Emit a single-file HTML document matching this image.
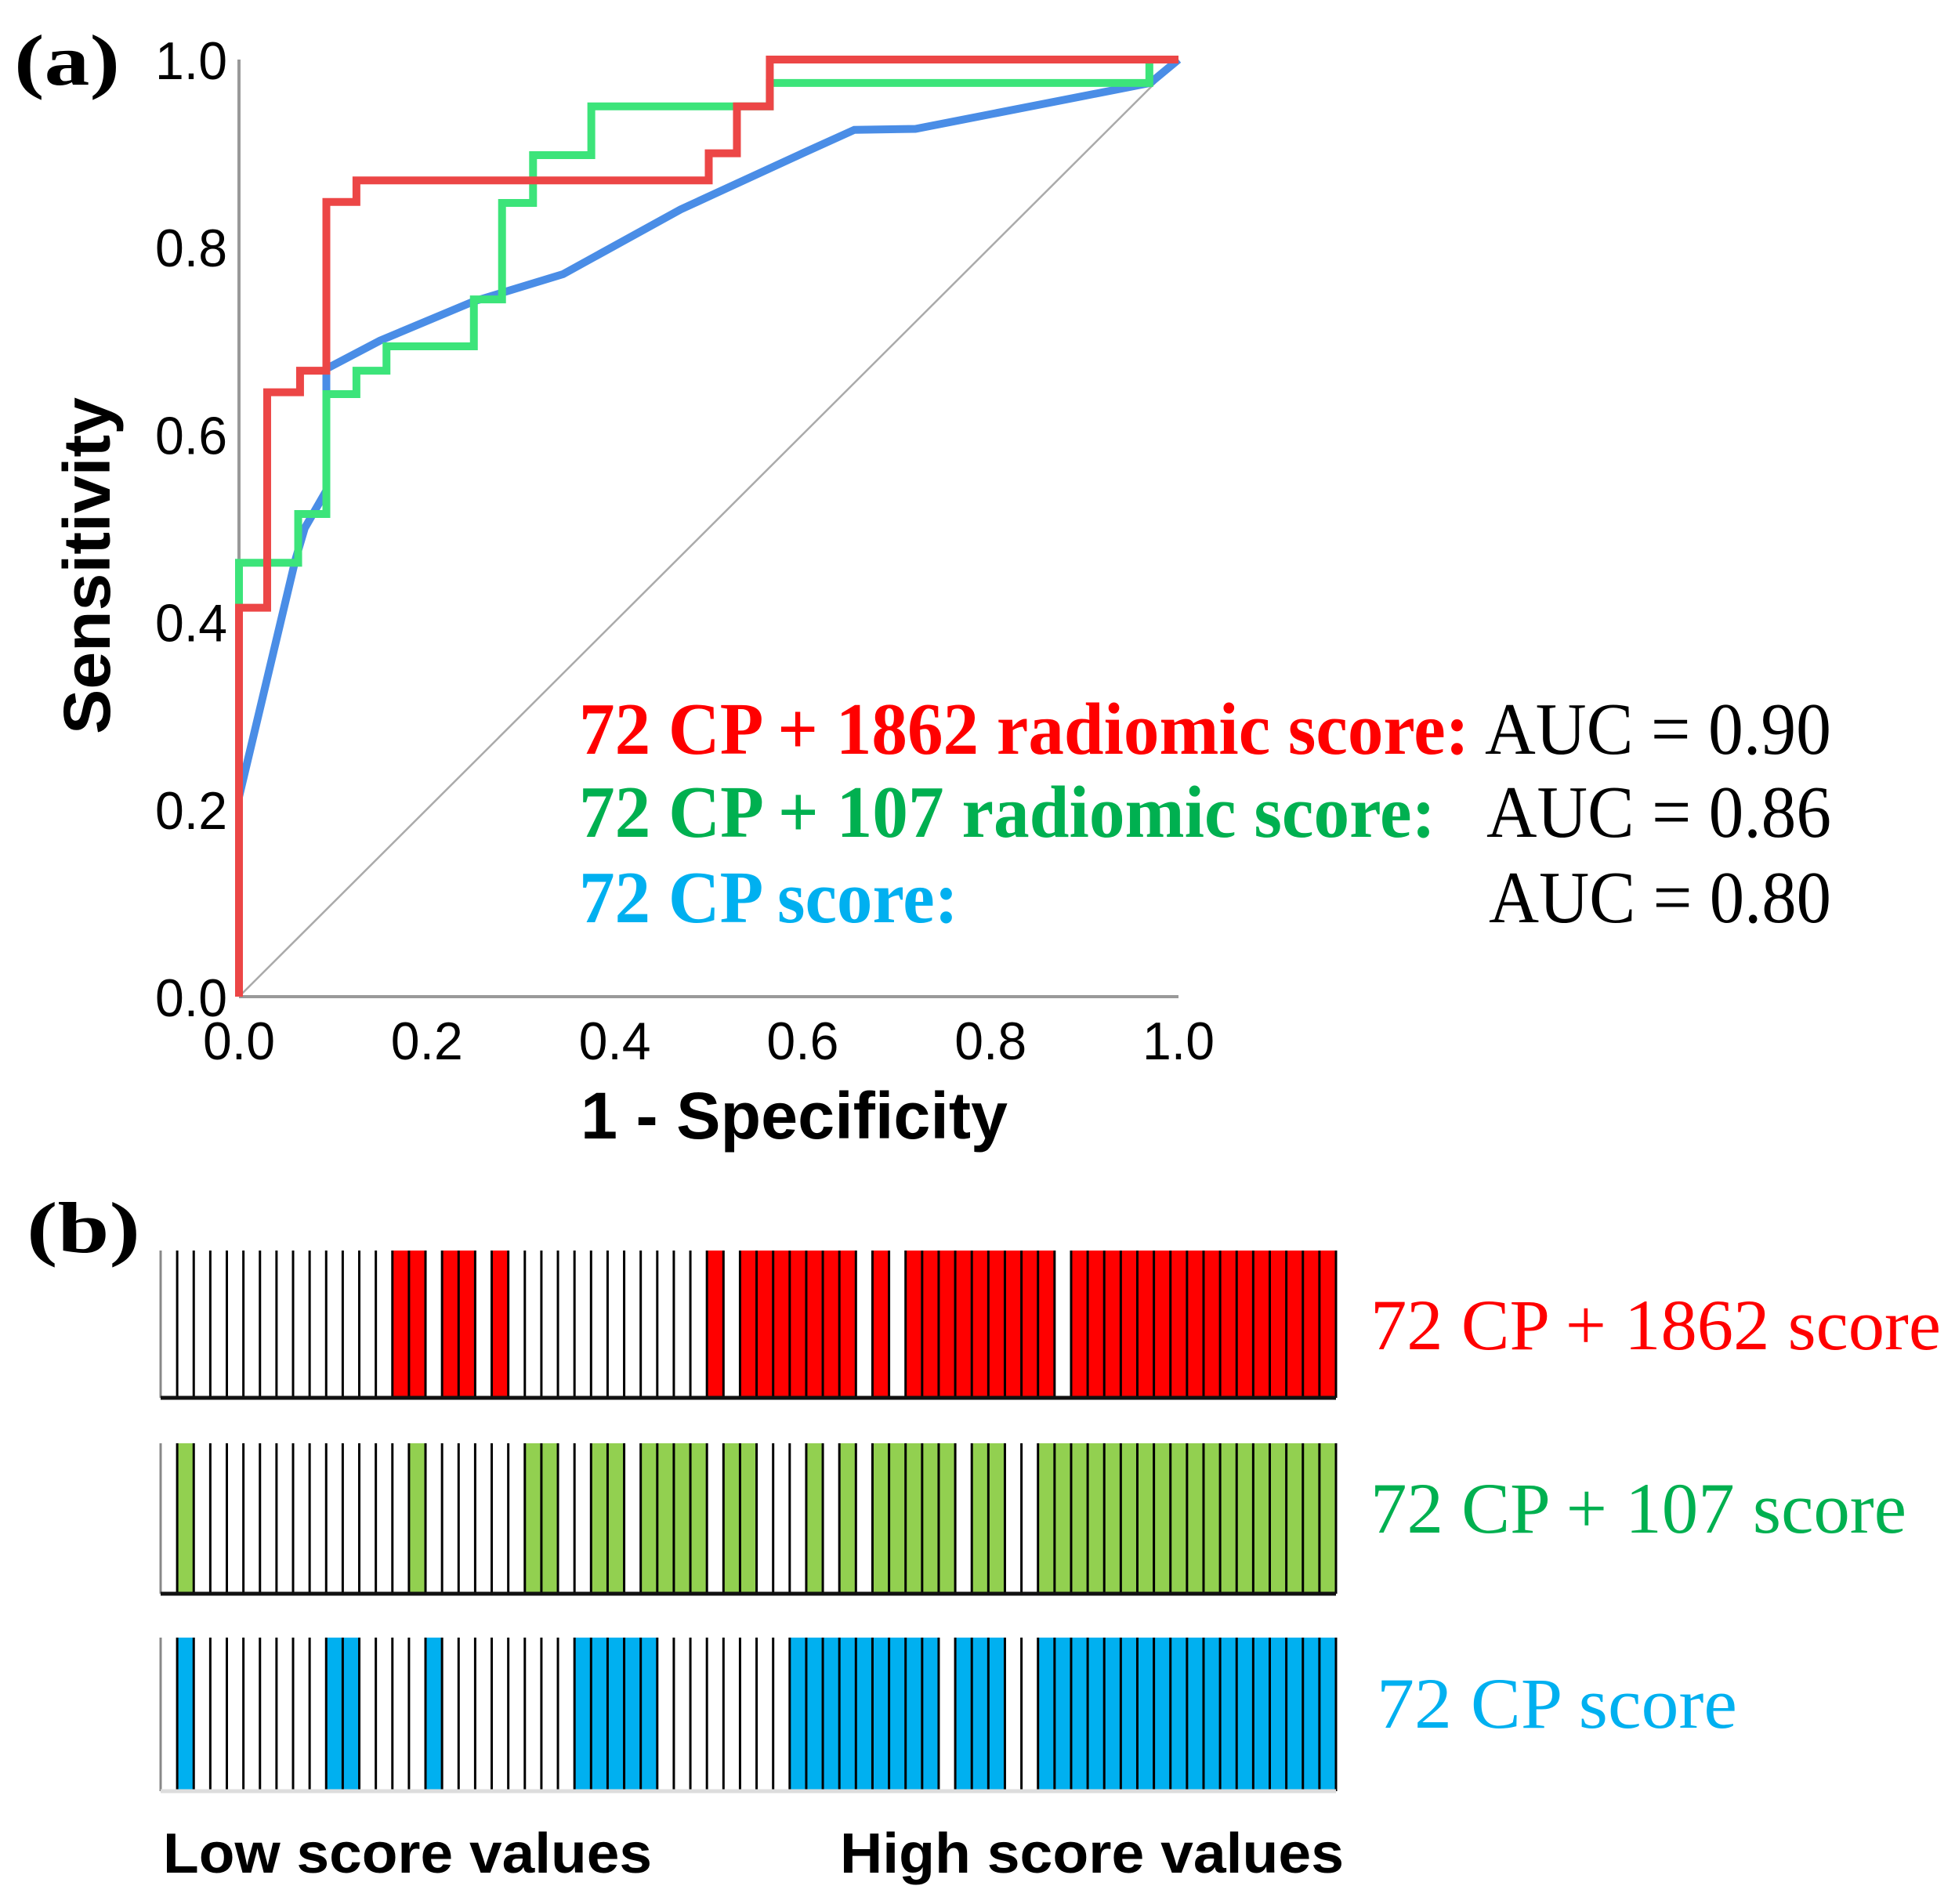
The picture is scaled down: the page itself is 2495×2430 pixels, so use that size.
<!DOCTYPE html>
<html><head><meta charset="utf-8"><style>
html,body{margin:0;padding:0;background:#fff}
svg{display:block}
.tick{font-family:"Liberation Sans",sans-serif;font-size:68px;fill:#000}
.ser{font-family:"Liberation Serif",serif}
</style></head><body>
<svg id="fig" width="2495" height="2430" viewBox="0 0 2495 2430" xmlns="http://www.w3.org/2000/svg">
<text class="ser" x="18" y="108" font-size="92" font-weight="bold" textLength="135" lengthAdjust="spacingAndGlyphs">(a)</text>
<g id="roc"></g>
<text transform="translate(140,722) rotate(-90)" text-anchor="middle" font-family="Liberation Sans,sans-serif" font-weight="bold" font-size="84" textLength="430" lengthAdjust="spacingAndGlyphs">Sensitivity</text>
<text x="741" y="1453" font-family="Liberation Sans,sans-serif" font-weight="bold" font-size="84" textLength="545" lengthAdjust="spacingAndGlyphs">1 - Specificity</text>
<g class="ser" font-size="94">
<text x="739" y="962" fill="#ff0000" font-weight="bold" textLength="1136" lengthAdjust="spacingAndGlyphs">72 CP + 1862 radiomic score:</text>
<text x="739" y="1068" fill="#00b050" font-weight="bold" textLength="1093" lengthAdjust="spacingAndGlyphs">72 CP + 107 radiomic score:</text>
<text x="739" y="1177" fill="#00b0f0" font-weight="bold" textLength="484" lengthAdjust="spacingAndGlyphs">72 CP score:</text>
<text x="1895" y="962" textLength="442" lengthAdjust="spacingAndGlyphs">AUC = 0.90</text>
<text x="1897" y="1068" textLength="440" lengthAdjust="spacingAndGlyphs">AUC = 0.86</text>
<text x="1900" y="1177" textLength="437" lengthAdjust="spacingAndGlyphs">AUC = 0.80</text>
</g>
<text class="ser" x="34" y="1598" font-size="92" font-weight="bold" textLength="145" lengthAdjust="spacingAndGlyphs">(b)</text>
<g id="strips"></g>
<g class="ser" font-size="92">
<text x="1749" y="1722" fill="#ff0000" textLength="728" lengthAdjust="spacingAndGlyphs">72 CP + 1862 score</text>
<text x="1749" y="1956" fill="#00b050" textLength="684" lengthAdjust="spacingAndGlyphs">72 CP + 107 score</text>
<text x="1757" y="2205" fill="#00b0f0" textLength="460" lengthAdjust="spacingAndGlyphs">72 CP score</text>
</g>
<text x="208" y="2390" font-family="Liberation Sans,sans-serif" font-weight="bold" font-size="72" textLength="624" lengthAdjust="spacingAndGlyphs">Low score values</text>
<text x="1072" y="2390" font-family="Liberation Sans,sans-serif" font-weight="bold" font-size="72" textLength="643" lengthAdjust="spacingAndGlyphs">High score values</text>
</svg>
<script>
const ticks = [0, 0.2, 0.4, 0.6, 0.8, 1.0];
const tickLabels = ["0.0", "0.2", "0.4", "0.6", "0.8", "1.0"];
const redX = [0,0,0.03,0.03,0.065,0.065,0.093,0.093,0.125,0.125,0.5,0.5,0.53,0.53,0.565,0.565,1];
const redY = [0,0.415,0.415,0.645,0.645,0.668,0.668,0.848,0.848,0.871,0.871,0.9,0.9,0.95,0.95,1,1];
const greenX = [0,0,0.063,0.063,0.093,0.093,0.125,0.125,0.157,0.157,0.25,0.25,0.28,0.28,0.313,0.313,0.375,0.375,0.565,0.565,0.969,0.969,1];
const greenY = [0.418,0.463,0.463,0.515,0.515,0.643,0.643,0.668,0.668,0.694,0.694,0.744,0.744,0.847,0.847,0.898,0.898,0.95,0.95,0.975,0.975,1,1];
const blueX = [0,0.06,0.07,0.093,0.093,0.15,0.25,0.345,0.47,0.6,0.655,0.72,0.97,1];
const blueY = [0.213,0.466,0.5,0.54,0.67,0.7,0.742,0.771,0.84,0.9,0.925,0.926,0.975,1];
const nPatients = 71;
const redPos = [14,15,17,18,20,33,35,36,37,38,39,40,41,43,45,46,47,48,49,50,51,52,53,55,56,57,58,59,60,61,62,63,64,65,66,67,68,69,70];
const greenPos = [1,15,22,23,26,27,29,30,31,32,34,35,39,41,43,44,45,46,47,49,50,53,54,55,56,57,58,59,60,61,62,63,64,65,66,67,68,69,70];
const bluePos = [1,10,11,16,25,26,27,28,29,38,39,40,41,42,43,44,45,46,48,49,50,53,54,55,56,57,58,59,60,61,62,63,64,65,66,67,68,69,70];

const NS = "http://www.w3.org/2000/svg";
const X0 = 305, X1 = 1504, Y0 = 1272, Y1 = 76;
const sx = v => X0 + v * (X1 - X0);
const sy = v => Y0 - v * (Y0 - Y1);
function mk(tag, attrs, parent) { const e = document.createElementNS(NS, tag); for (const k in attrs) e.setAttribute(k, attrs[k]); parent.appendChild(e); return e; }
const roc = document.getElementById('roc');
let ax = mk('line', {x1: X0, y1: Y1, x2: X0, y2: Y0, stroke: '#999', 'stroke-width': 4}, roc);


ax = mk('line', {x1: X0, y1: Y0, x2: X1, y2: Y0, stroke: '#999', 'stroke-width': 4}, roc);


const dg = mk('line', {x1: sx(0), y1: sy(0), x2: sx(1), y2: sy(1), stroke: '#aaa', 'stroke-width': 2.5}, roc);


ticks.forEach((t, i) => {
  const yl = mk('text', {x: 290, y: sy(t) + 25, 'text-anchor': 'end', class: 'tick', textLength: 92, lengthAdjust: 'spacingAndGlyphs'}, roc);
  yl.textContent = tickLabels[i];
  
  
  const xl = mk('text', {x: sx(t), y: 1352, 'text-anchor': 'middle', class: 'tick', textLength: 92, lengthAdjust: 'spacingAndGlyphs'}, roc);
  xl.textContent = tickLabels[i];
  
  
});
function curve(xs, ys, color, name) {
  const p = mk('polyline', {points: xs.map((x, i) => sx(x) + ',' + sy(ys[i])).join(' '), fill: 'none', stroke: color, 'stroke-width': 10, 'stroke-linejoin': 'miter'}, roc);
  
  
}
curve(blueX, blueY, '#4a8de6', 'roc-curve-cp');
curve(greenX, greenY, '#3ce47a', 'roc-curve-107');
curve(redX, redY, '#ec4646', 'roc-curve-1862');

const strips = document.getElementById('strips');
const SX0 = 205, SX1 = 1705, bw = (SX1 - SX0) / nPatients;
function strip(pos, color, top, bot, name, baseColor) {
  const g = mk('g', {}, strips);
  
  
  pos.forEach(i => {
    const r = mk('rect', {x: SX0 + i * bw, y: top, width: bw, height: bot - top, fill: color}, g);
    
    
  });
  for (let i = 0; i <= nPatients; i++) {
    const l = mk('line', {x1: SX0 + i * bw, y1: top, x2: SX0 + i * bw, y2: bot, stroke: i === 0 ? '#888' : '#000', 'stroke-width': 3}, g);
    
    
  }
  const b = mk('line', {x1: SX0, y1: bot, x2: SX1, y2: bot, stroke: baseColor, 'stroke-width': 5}, g);
  
  
}
strip(redPos, '#ff0000', 1596, 1784, 'strip-1862', '#111');
strip(greenPos, '#92d050', 1842, 2034, 'strip-107', '#111');
strip(bluePos, '#00b0f0', 2090, 2286, 'strip-cp', '#ddd');
</script>
</body></html>
